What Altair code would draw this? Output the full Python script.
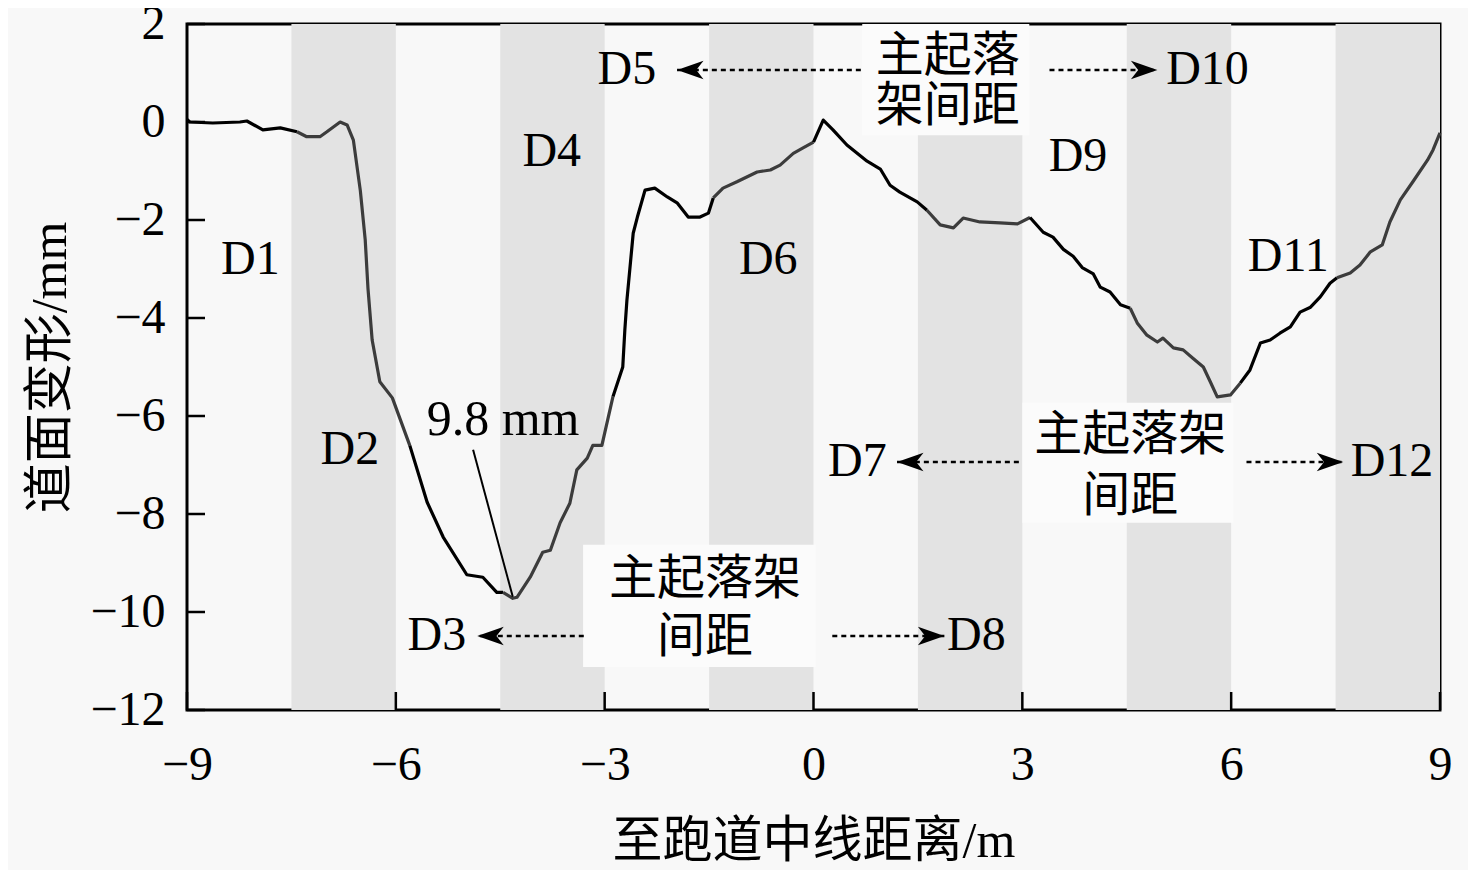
import altair as alt
import pandas as pd

# ---------------- data ----------------
curve_x = [-9.00, -8.96, -8.63, -8.24, -8.14, -7.91, -7.66, -7.42, -7.28, -7.09, -6.99, -6.80, -6.70,
           -6.61, -6.51, -6.44, -6.40, -6.34, -6.23, -6.05, -5.80, -5.55, -5.32, -4.98, -4.75, -4.55,
           -4.46, -4.32, -4.26, -4.07, -3.89, -3.78, -3.64, -3.50, -3.40, -3.25, -3.17, -3.04, -2.88,
           -2.74, -2.71, -2.68, -2.59, -2.53, -2.42, -2.28, -2.10, -1.96, -1.80, -1.63, -1.51, -1.44,
           -1.30, -1.10, -0.81, -0.62, -0.48, -0.29, -0.15, 0.00, 0.14, 0.28, 0.48, 0.77, 0.96, 1.10,
           1.24, 1.49, 1.63, 1.82, 2.01, 2.15, 2.39, 2.68, 2.93, 3.11, 3.30, 3.44, 3.59, 3.73, 3.86,
           4.02, 4.12, 4.26, 4.41, 4.55, 4.65, 4.79, 4.94, 5.02, 5.17, 5.31, 5.45, 5.60, 5.70, 5.80,
           5.99, 6.13, 6.27, 6.42, 6.56, 6.70, 6.85, 6.99, 7.14, 7.28, 7.42, 7.52, 7.71, 7.85, 8.00,
           8.17, 8.28, 8.43, 8.61, 8.82, 8.90, 9.00]
curve_y = [0.05, 0.00, -0.02, 0.00, 0.02, -0.16, -0.12, -0.20, -0.30, -0.30, -0.20, 0.00, -0.06,
           -0.37, -1.40, -2.40, -3.40, -4.45, -5.30, -5.63, -6.60, -7.76, -8.47, -9.24, -9.29, -9.60,
           -9.60, -9.72, -9.70, -9.29, -8.78, -8.74, -8.18, -7.78, -7.10, -6.86, -6.60, -6.60, -5.60,
           -5.00, -4.24, -3.63, -2.27, -1.94, -1.39, -1.35, -1.53, -1.65, -1.94, -1.94, -1.86, -1.55,
           -1.35, -1.22, -1.02, -0.98, -0.88, -0.64, -0.53, -0.41, 0.04, -0.16, -0.47, -0.80, -0.96, -1.29,
           -1.43, -1.63, -1.80, -2.10, -2.16, -1.96, -2.04, -2.06, -2.08, -1.95, -2.25, -2.35, -2.60, -2.74, -2.97,
           -3.10, -3.37, -3.47, -3.73, -3.80, -4.10, -4.35, -4.49, -4.41, -4.61, -4.65, -4.82, -5.00, -5.30, -5.61,
           -5.57, -5.33, -5.06, -4.51, -4.45, -4.31, -4.18, -3.88, -3.78, -3.57, -3.29, -3.18, -3.08, -2.92, -2.65,
           -2.51, -2.04, -1.59, -1.22, -0.78, -0.57, -0.22]

band_start = [-7.5, -4.5, -1.5, 1.5, 4.5, 7.5]
band_end = [-6.0, -3.0, 0.0, 3.0, 6.0, 9.0]

x_ticks = [-9, -6, -3, 0, 3, 6, 9]
y_ticks = [2, 0, -2, -4, -6, -8, -10, -12]

d_labels = ["D1", "D2", "D3", "D4", "D5", "D6", "D7", "D8", "D9", "D10", "D11", "D12"]
d_x = [-8.09, -6.66, -5.41, -3.76, -2.68, -0.65, 0.63, 2.34, 3.80, 5.66, 6.82, 8.31]
d_y = [-2.82, -6.69, -10.49, -0.61, 1.06, -2.82, -6.94, -10.49, -0.71, 1.06, -2.76, -6.94]

cn_text = ["主起落", "架间距", "主起落架", "间距", "主起落架", "间距"]
cn_x = [1.93, 1.93, -1.56, -1.56, 4.55, 4.55]
cn_y = [1.33, 0.31, -9.35, -10.53, -6.41, -7.65]

box_x1 = [0.70, -3.31, 3.00]
box_x2 = [3.10, 0.03, 6.03]
box_y1 = [2.0, -8.63, -5.73]
box_y2 = [-0.27, -11.12, -8.18]

# dotted arrows: dash from x_from to x_tip, arrow tip at x_tip
arr_from = [0.68, 3.39, 2.95, 6.22, -3.30, 0.27]
arr_tip = [-1.96, 4.94, 1.20, 7.61, -4.83, 1.88]
arr_y = [1.06, 1.06, -6.94, -6.94, -10.49, -10.49]
arr_dir = ["L", "R", "L", "R", "L", "R"]

peak_label = ["9.8 mm"]
peak_label_x = [-4.46]
peak_label_y = [-6.08]
leader_x = [-4.89, -4.32]
leader_y = [-6.69, -9.69]

# ---------------- build tables ----------------
rows = []
seg = 0
prev = None
for i, (x, y) in enumerate(zip(curve_x, curve_y)):
    k = min(int((x + 9) // 1.5), 11)
    g = "g" if k % 2 == 1 else "w"
    if prev is not None and g != prev:
        rows.append(dict(x=x, y=y, seg=seg, shade=prev, o=i))
        seg += 1
    rows.append(dict(x=x, y=y, seg=seg, shade=g, o=i))
    prev = g
curve_df = pd.DataFrame(rows)

bands_df = pd.DataFrame({"x": band_start, "x2": band_end})
boxes_df = pd.DataFrame({"x": box_x1, "x2": box_x2, "y": box_y1, "y2": box_y2})
dlab_df = pd.DataFrame({"x": d_x, "y": d_y, "t": d_labels})
cn_df = pd.DataFrame({"x": cn_x, "y": cn_y, "t": cn_text})
arr_df = pd.DataFrame({"x": arr_from, "x2": arr_tip, "y": arr_y, "d": arr_dir})
xt_df = pd.DataFrame({"x": x_ticks})
yt_df = pd.DataFrame({"y": y_ticks})
peak_df = pd.DataFrame({"x": peak_label_x, "y": peak_label_y, "t": peak_label})
leader_df = pd.DataFrame({"x": leader_x, "y": leader_y})

LAT = "Liberation Serif"
MIX = "Liberation Serif, Noto Sans CJK SC"
W, H = 1253, 686

xs = alt.Scale(domain=[-9, 9], nice=False, zero=False)
ys = alt.Scale(domain=[-12, 2], nice=False, zero=False)

x_axis = alt.Axis(values=x_ticks, tickSize=0, domain=False, grid=False, labelFont=LAT,
                  labelFontSize=48, labelColor="black", labelPadding=31, labelFlush=False,
                  labelOverlap=False, labelBound=False,
                  titleFont=MIX, titleFontSize=50, titleFontWeight="normal", titleColor="black",
                  titlePadding=27)
y_axis = alt.Axis(values=y_ticks, tickSize=0, domain=False, grid=False, labelFont=LAT,
                  labelFontSize=48, labelColor="black", labelPadding=22, labelFlush=False,
                  labelOverlap=False, labelBound=False,
                  titleFont=MIX, titleFontSize=50, titleFontWeight="normal", titleColor="black",
                  titlePadding=14)
XT = "至跑道中线距离/m"
YT = "道面变形/mm"


def X(f="x"):
    return alt.X(f"{f}:Q", scale=xs, axis=x_axis, title=XT)


def Y(f="y"):
    return alt.Y(f"{f}:Q", scale=ys, axis=y_axis, title=YT)


bands = alt.Chart(bands_df).mark_rect(color="#e3e3e3").encode(
    x=X(), x2="x2:Q", y=alt.value(0), y2=alt.value(H))

boxes = alt.Chart(boxes_df).mark_rect(color="#fbfbfb").encode(
    x=X(), x2="x2:Q", y=Y(), y2="y2:Q")

xticks = alt.Chart(xt_df).mark_rule(color="black", strokeWidth=2.5).encode(
    x=X(), y=alt.value(H), y2=alt.value(H - 18))
yticks = alt.Chart(yt_df).mark_rule(color="black", strokeWidth=2.5).encode(
    y=Y(), x=alt.value(0), x2=alt.value(18))

line = alt.Chart(curve_df).mark_line(strokeWidth=3.2, strokeJoin="round").encode(
    x=X(), y=Y(),
    detail="seg:N",
    order="o:Q",
    color=alt.Color("shade:N", scale=alt.Scale(domain=["w", "g"], range=["#000000", "#3c3c3c"]),
                    legend=None))

leader = alt.Chart(leader_df).mark_line(color="black", strokeWidth=2).encode(x=X(), y=Y())

dash = alt.Chart(arr_df).mark_rule(color="black", strokeWidth=2.5, strokeDash=[5, 4]).encode(
    x=X(), x2="x2:Q", y=Y())

head_l = alt.Chart(arr_df).transform_filter(alt.datum.d == "L").mark_point(
    shape="M0,0L2,-0.7L1.45,0L2,0.7Z", filled=True, color="black", opacity=1, size=700,
    strokeWidth=0).encode(x=X("x2"), y=Y())
head_r = alt.Chart(arr_df).transform_filter(alt.datum.d == "R").mark_point(
    shape="M0,0L-2,-0.7L-1.45,0L-2,0.7Z", filled=True, color="black", opacity=1, size=700,
    strokeWidth=0).encode(x=X("x2"), y=Y())

dtext = alt.Chart(dlab_df).mark_text(font=LAT, fontSize=48, color="black").encode(
    x=X(), y=Y(), text="t:N")
cntext = alt.Chart(cn_df).mark_text(font=MIX, fontSize=48, color="black").encode(
    x=X(), y=Y(), text="t:N")
ptext = alt.Chart(peak_df).mark_text(font=LAT, fontSize=50, color="black").encode(
    x=X(), y=Y(), text="t:N")

chart = alt.layer(bands, boxes, xticks, yticks, line, leader, dash, head_l, head_r,
                  dtext, cntext, ptext).properties(
    width=W, height=H,
    autosize=alt.AutoSizeParams(type="none"),
    padding={"left": 179, "top": 16, "right": 28, "bottom": 160},
    background="#f8f8f8",
).configure_view(stroke="black", strokeWidth=3, fill="#f8f8f8")

chart.save("out.html", embed_options={"renderer": "svg", "actions": False})
